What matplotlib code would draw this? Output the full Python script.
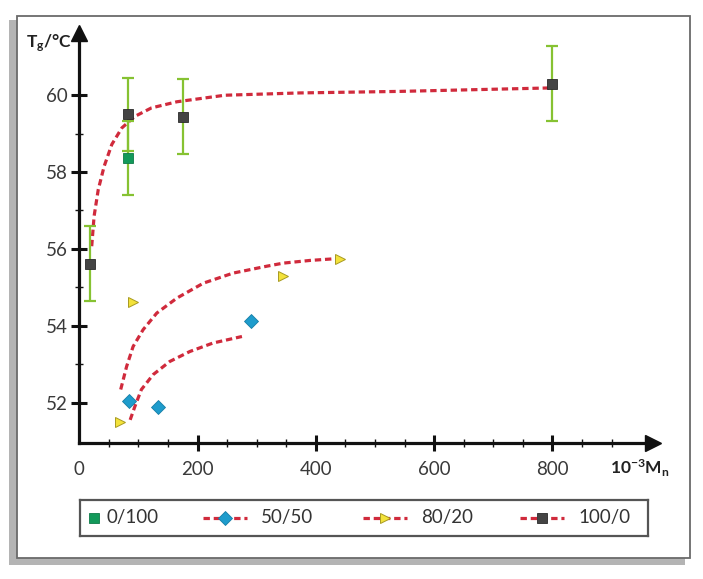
import matplotlib
matplotlib.use("Agg")
import matplotlib.pyplot as plt
from matplotlib.patches import Rectangle
from matplotlib.ticker import FixedLocator

plt.rcParams['font.family'] = ['Lato', 'DejaVu Sans']
plt.rcParams['mathtext.fontset'] = 'custom'
plt.rcParams['mathtext.rm'] = 'Lato'
plt.rcParams['mathtext.bf'] = 'Lato:bold'

# measured data (10^-3 Mn, Tg in degC)
mn_0_100 = [82]
tg_0_100 = [58.37]
err_0_100 = [0.96]

mn_50_50 = [84, 133, 290]
tg_50_50 = [52.03, 51.88, 54.12]

mn_80_20 = [68, 91, 345, 441]
tg_80_20 = [51.5, 54.62, 55.29, 55.75]

mn_100_0 = [18, 82, 175, 799]
tg_100_0 = [55.62, 59.5, 59.44, 60.3]
err_100_0 = [0.97, 0.95, 0.97, 0.97]

# fitted curves
fit_50_50_x = [86, 94, 105, 125, 153, 187, 226, 275]
fit_50_50_y = [51.55, 51.9, 52.34, 52.73, 53.07, 53.33, 53.55, 53.72]

fit_80_20_x = [70, 80, 91, 108, 131, 165, 210, 260, 317, 345, 390, 438]
fit_80_20_y = [52.34, 52.94, 53.46, 53.9, 54.33, 54.72, 55.11, 55.37, 55.55, 55.63, 55.7, 55.75]

fit_100_0_x = [21, 25, 32, 42, 55, 72, 94, 122, 165, 246, 373, 542, 796]
fit_100_0_y = [56.07, 56.85, 57.54, 58.15, 58.72, 59.15, 59.45, 59.67, 59.83, 60.0, 60.06, 60.1, 60.19]

x_major = [0, 200, 400, 600, 800]
x_minor = [50, 100, 150, 250, 300, 350, 450, 500, 550, 650, 700, 750, 850, 900]
y_major = [52, 54, 56, 58, 60]
y_minor = [53, 55, 57, 59]

W, H = 703, 579
fig = plt.figure(figsize=(W / 100, H / 100), dpi=100)

# outer frame with drop shadow
fig.patches.append(Rectangle((9 / W, 1 - 565 / H), 676 / W, 545 / H,
                             transform=fig.transFigure, facecolor='#b4b4b4',
                             edgecolor='none', zorder=-3))
fig.patches.append(Rectangle((17 / W, 1 - 558 / H), 673 / W, 542 / H,
                             transform=fig.transFigure, facecolor='white',
                             edgecolor='#6a6a6a', lw=1.3, zorder=-2))

ax = fig.add_axes([79.3 / W, 1 - 443.3 / H, 573.7 / W, 410.3 / H])
ax.patch.set_alpha(0)
ax.set_xlim(0, 970)
ax.set_ylim(50.94, 61.62)

red = '#d02a3c'
green_err = '#86c232'
dash = dict(ls=(0, (2.0, 1.2)), lw=2.3, color=red, zorder=2)

ax.plot(fit_50_50_x, fit_50_50_y, **dash)
ax.plot(fit_80_20_x, fit_80_20_y, **dash)
ax.plot(fit_100_0_x, fit_100_0_y, **dash)

ax.errorbar(mn_0_100, tg_0_100, yerr=err_0_100, fmt='none', ecolor=green_err,
            elinewidth=1.6, capsize=4.5, capthick=1.6, zorder=3)
ax.errorbar(mn_100_0, tg_100_0, yerr=err_100_0, fmt='none', ecolor=green_err,
            elinewidth=1.6, capsize=4.5, capthick=1.6, zorder=3)

sq0 = dict(marker='s', ms=6.5, mfc='#12995a', mec='#0e7a48', mew=0.6, ls='none')
dia = dict(marker='D', ms=7.5, mfc='#1e9ccc', mec='#177ea6', mew=0.6, ls='none')
tri = dict(marker='>', ms=7.5, mfc='#f3e23a', mec='#a89a22', mew=0.7, ls='none')
sq1 = dict(marker='s', ms=6.5, mfc='#444444', mec='#2a2a2a', mew=0.6, ls='none')

ax.plot(mn_0_100, tg_0_100, zorder=4, **sq0)
ax.plot(mn_50_50, tg_50_50, zorder=4, **dia)
ax.plot(mn_80_20, tg_80_20, zorder=4, **tri)
ax.plot(mn_100_0, tg_100_0, zorder=4, **sq1)

# axes with arrow heads
for s in ['top', 'right']:
    ax.spines[s].set_visible(False)
for s in ['left', 'bottom']:
    ax.spines[s].set_linewidth(2.3)
    ax.spines[s].set_color('#111111')
ax.plot(1, 0, '>', ms=11, color='#111111', transform=ax.transAxes, clip_on=False)
ax.plot(0, 1, '^', ms=11, color='#111111', transform=ax.transAxes, clip_on=False)

ax.xaxis.set_major_locator(FixedLocator(x_major))
ax.xaxis.set_minor_locator(FixedLocator(x_minor))
ax.yaxis.set_major_locator(FixedLocator(y_major))
ax.yaxis.set_minor_locator(FixedLocator(y_minor))
ax.tick_params(which='major', direction='inout', length=11, width=2.2,
               color='#111111', labelsize=13.5, labelcolor='#3a3a3a')
ax.tick_params(which='minor', direction='inout', length=6, width=1.0, color='#111111')
ax.tick_params(axis='x', which='major', pad=7)
ax.tick_params(axis='y', which='major', pad=3)
ax.xaxis.get_major_ticks()[0].tick1line.set_visible(False)

ax.text(-0.053, 0.976, r'$\mathbf{T_g}$' + '/°C', transform=ax.transAxes,
        ha='center', va='center', fontsize=12.5, fontweight='bold', color='#222222')
ax.text(0.977, -0.06, r'$\mathbf{10^{-3}M_n}$', transform=ax.transAxes,
        ha='center', va='center', fontsize=12.5, color='#222222')

# legend box
lax = fig.add_axes([80 / W, 1 - 536 / H, 567.7 / W, 36 / H])
lax.set_xlim(80, 647.7)
lax.set_ylim(0, 1)
lax.set_xticks([])
lax.set_yticks([])
for s in lax.spines.values():
    s.set_linewidth(1.6)
    s.set_color('#555555')

lax.plot([94], [0.5], **sq0)
lax.text(107, 0.5, '0/100', va='center', fontsize=13.5, color='#333333')
for x0, sty, lab in [(203, dia, '50/50'), (363, tri, '80/20'), (520, sq1, '100/0')]:
    lax.plot([x0, x0 + 44], [0.5, 0.5], ls=(0, (2.0, 1.2)), lw=2.3, color=red)
    lax.plot([x0 + 22], [0.5], **sty)
    lax.text(x0 + 58, 0.5, lab, va='center', fontsize=13.5, color='#333333')

fig.savefig('out.png', dpi=100)
